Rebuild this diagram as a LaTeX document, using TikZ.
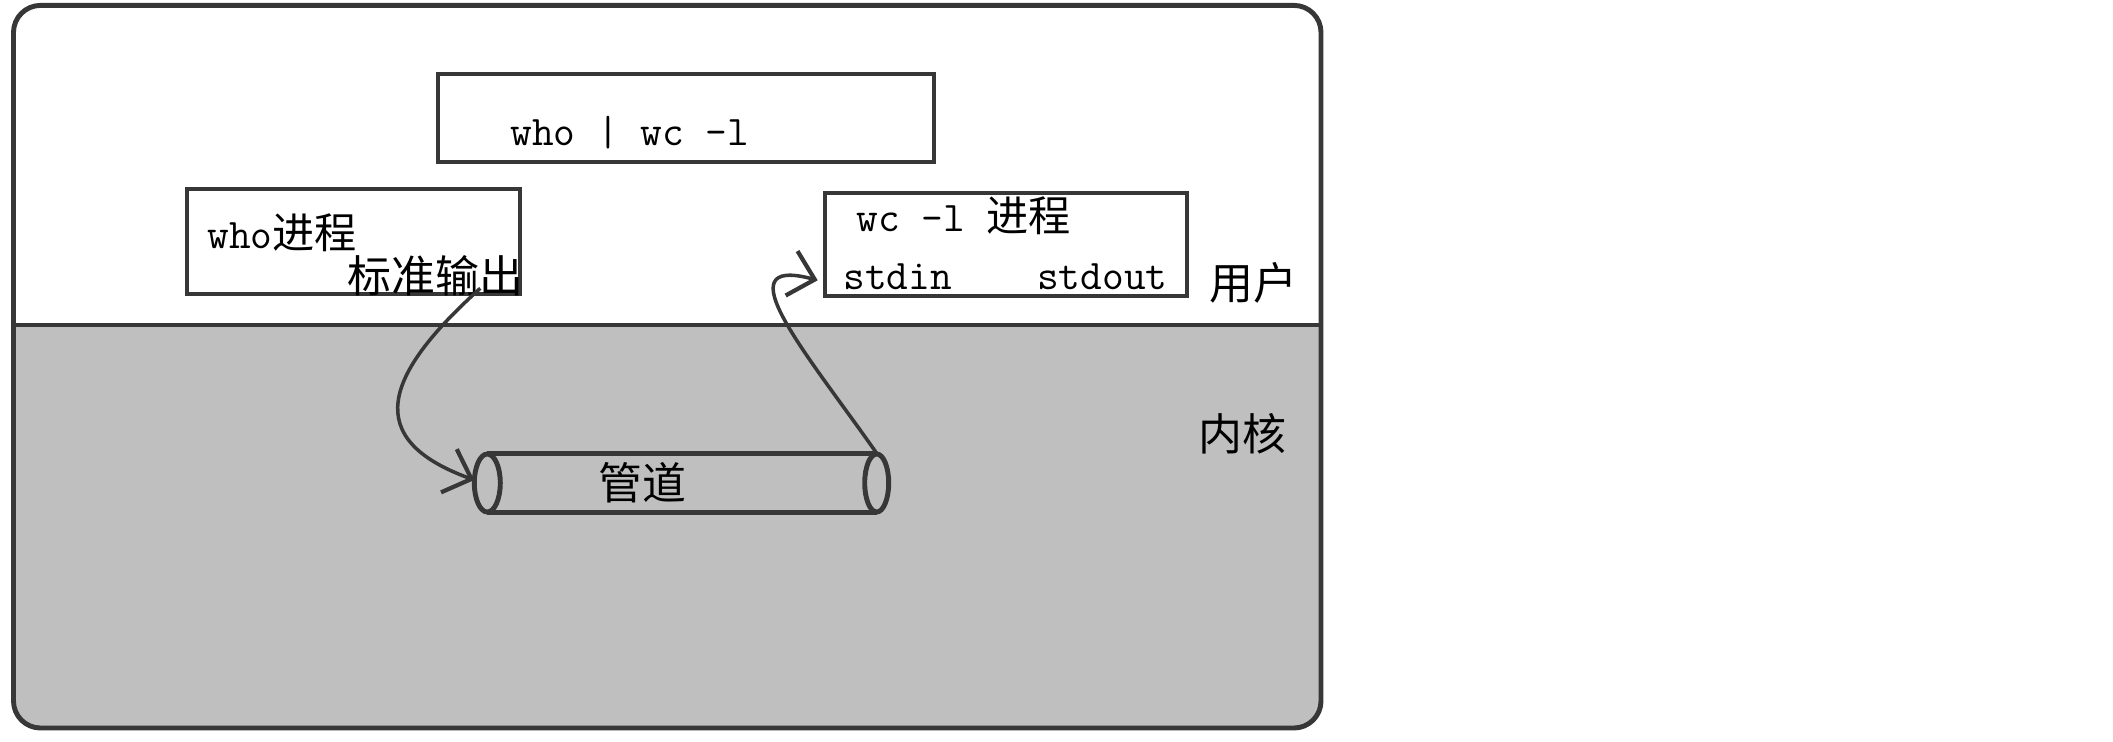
\documentclass[tikz,border=0pt]{standalone}
\usepackage{fontspec}
\newfontfamily\cjk{Noto Sans CJK SC}
\usetikzlibrary{arrows.meta,positioning}
\definecolor{kernelgray}{RGB}{191,191,191}
\definecolor{framegray}{RGB}{55,55,55}
\begin{document}
\begin{tikzpicture}

	\tikzset{
	procbox/.style={draw=framegray, line width=1.3pt, fill=white, inner sep=0pt},
	monotxt/.style={font=\fontsize{12}{14}\selectfont\ttfamily, inner sep=0pt},
	cjktxt/.style={font=\fontsize{12.5}{14}\selectfont\cjk, inner sep=0pt},
	pipeline/.style={draw=framegray, line width=1.4pt},
	flowarrow/.style={draw=framegray, line width=1pt, -{Straight Barb[length=2.4mm, width=4.6mm, line width=1.2pt]}}
	}

	\useasboundingbox (0,0) rectangle (21.13,-7.41);

	% Regions
	\begin{scope}
	\clip[rounded corners=0.27cm] (0.135,-0.054) rectangle (13.21,-7.28);
	\fill[kernelgray] (0.135,-3.25) rectangle (13.21,-7.28);
	\end{scope}
	\draw[framegray, line width=1.4pt, rounded corners=0.27cm] (0.135,-0.054) rectangle (13.21,-7.28);
	\draw[framegray, line width=1.4pt] (0.135,-3.25) -- (13.21,-3.25);

	% Nodes
	\node[procbox, minimum width=4.96cm, minimum height=0.88cm] (cmdbox) at (6.86,-1.18) {};
	\node[procbox, minimum width=3.33cm, minimum height=1.05cm] (whobox) at (3.535,-2.415) {};
	\node[procbox, minimum width=3.62cm, minimum height=1.03cm] (wcbox) at (10.06,-2.445) {};

	\node[monotxt, anchor=west] (cmdtxt) at ([xshift=0.74cm, yshift=-0.15cm]cmdbox.west) {who | wc -l};

	\node[monotxt, anchor=west] (whotxt) at ([xshift=0.22cm, yshift=0.09cm]whobox.west) {who{\cjk 进程}};
	\node[cjktxt, anchor=east] (stdouttxt) at ([xshift=0.02cm, yshift=0.21cm]whobox.south east) {标准输出};

	\node[monotxt, anchor=west] (wctxt) at ([xshift=0.33cm, yshift=0.29cm]wcbox.west) {wc -l {\cjk 进程}};
	\node[monotxt, anchor=west] (stdin) at ([xshift=0.2cm, yshift=0.22cm]wcbox.south west) {stdin};
	\node[monotxt, anchor=east] (stdout) at ([xshift=-0.21cm, yshift=0.22cm]wcbox.south east) {stdout};

	\node[cjktxt, anchor=west] (user) at (12.09,-2.83) {用户};
	\node[cjktxt, anchor=west] (kernel) at (11.98,-4.34) {内核};

	\node[minimum width=3.88cm, minimum height=0.58cm, inner sep=0pt] (pipe) at (6.82,-4.83) {};
	\node[cjktxt] (pipetxt) at ([xshift=-0.4cm]pipe.center) {管道};

	\coordinate (outpt) at ([xshift=-0.42cm, yshift=0.08cm]whobox.south east);
	\coordinate (pipein) at ([xshift=-0.13cm, yshift=0.03cm]pipe.west);
	\coordinate (stdinpt) at ([xshift=-0.25cm, yshift=-0.04cm]stdin.west);

	% Pipe
	\draw[pipeline] (pipe.north west) -- (pipe.north east);
	\draw[pipeline] (pipe.south west) -- (pipe.south east);
	\draw[pipeline] (pipe.west) ellipse [x radius=0.13cm, y radius=0.29cm];
	\draw[pipeline] (pipe.east) ellipse [x radius=0.12cm, y radius=0.29cm];

	% Lines
	\draw[flowarrow] (outpt) .. controls +(222:1.3) and +(160:1.2) .. (pipein);
	\draw[flowarrow] (pipe.north east) .. controls +(125:1.2) and +(165:1.0) .. (stdinpt);

	\end{tikzpicture}
\end{document}
